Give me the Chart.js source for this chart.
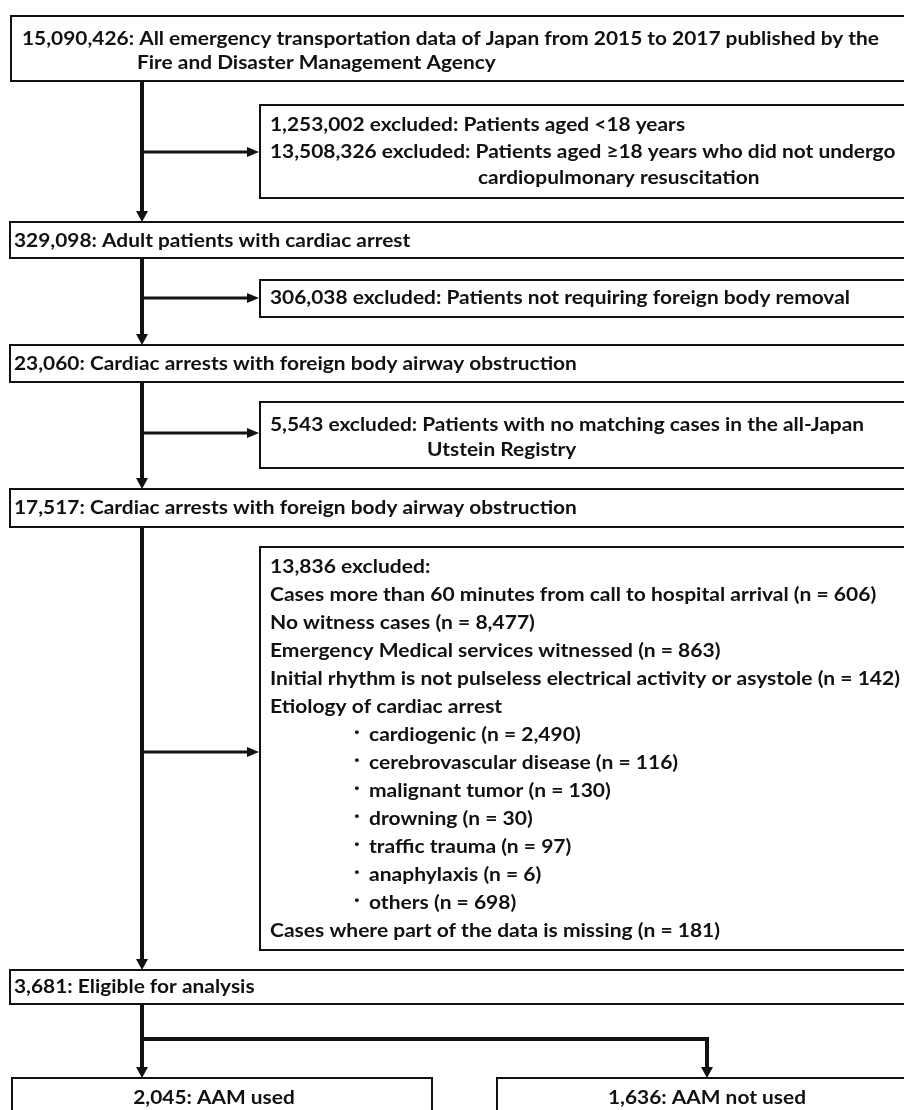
<!DOCTYPE html>
<html>
<head>
<meta charset="utf-8">
<script src="https://cdn.jsdelivr.net/npm/chart.js@4.4.1/dist/chart.umd.min.js"></script>
<style>
  html, body { margin: 0; padding: 0; background: #fff; }
  #flow { display: block; }
</style>
</head>
<body>
<canvas id="flow" width="904" height="1110"></canvas>
<script>
// Patients left at each stage of the flow
const stageCounts = [15090426, 329098, 23060, 17517, 3681];
const stageLabels = [
    ['All emergency transportation data of Japan from 2015 to 2017 published by the', 'Fire and Disaster Management Agency'],
    ['Adult patients with cardiac arrest'],
    ['Cardiac arrests with foreign body airway obstruction'],
    ['Cardiac arrests with foreign body airway obstruction'],
    ['Eligible for analysis']
];

// Exclusions between the stages
const excludedCounts = [1253002, 13508326, 306038, 5543, 13836];
const excludedReasons = [
    ['Patients aged <18 years'],
    ['Patients aged \u226518 years who did not undergo', 'cardiopulmonary resuscitation'],
    ['Patients not requiring foreign body removal'],
    ['Patients with no matching cases in the all-Japan', 'Utstein Registry'],
    ['']
];

// Breakdown of the last exclusion
const criteriaLabels = [
    'Cases more than 60 minutes from call to hospital arrival',
    'No witness cases',
    'Emergency Medical services witnessed',
    'Initial rhythm is not pulseless electrical activity or asystole'
];
const criteriaCounts = [606, 8477, 863, 142];
const etiologyTitle = 'Etiology of cardiac arrest';
const etiologyLabels = ['cardiogenic', 'cerebrovascular disease', 'malignant tumor', 'drowning', 'traffic trauma', 'anaphylaxis', 'others'];
const etiologyCounts = [2490, 116, 130, 30, 97, 6, 698];
const missingLabel = 'Cases where part of the data is missing';
const missingCount = 181;

// Final groups
const groupLabels = ['AAM used', 'AAM not used'];
const groupCounts = [2045, 1636];

// Layout of the boxes (pixels in the 904 x 1110 frame)
const layout = {
    mainX: 142,
    right: 912,
    stages: [
        { left: 11, top: 16, bottom: 81, textX: 22, lineY: [39, 63], wrapX: 137 },
        { left: 10, top: 222, bottom: 258, textX: 14, lineY: [241] },
        { left: 10, top: 345, bottom: 382, textX: 14, lineY: [364] },
        { left: 10, top: 489, bottom: 527, textX: 14, lineY: [508] },
        { left: 10, top: 970, bottom: 1004, textX: 14, lineY: [987] }
    ],
    exclusions: [
        { items: [0, 1], top: 105, bottom: 198, arrowY: 152, lineY: [125, 152, 178], wrapX: 478 },
        { items: [2], top: 280, bottom: 317, arrowY: 298, lineY: [298] },
        { items: [3], top: 402, bottom: 468, arrowY: 433, lineY: [425, 450], wrapX: 427 },
        { items: [4], top: 547, bottom: 950, arrowY: 752, firstY: 567, step: 28 }
    ],
    exclLeft: 260,
    exclTextX: 270,
    bulletX: 354,
    bulletTextX: 369,
    branchY: 1039,
    groups: [
        { left: 12, right: 432, centerX: 214 },
        { left: 497, right: 917, centerX: 707 }
    ],
    groupTop: 1078,
    groupBottom: 1120,
    groupTextY: 1098
};

const FONT = 'bold 18px Lato, "Open Sans", sans-serif';
const fmt = v => v.toLocaleString('en-US');
const nText = v => '(n = ' + fmt(v) + ')';

const flowPlugin = {
    id: 'flowDiagram',
    afterDraw(chart) {
        const c = chart.ctx;
        const sx = chart.scales.x, sy = chart.scales.y;
        const X = v => sx.getPixelForValue(v);
        const Y = v => sy.getPixelForValue(v);

        c.save();
        c.fillStyle = '#fff';
        c.fillRect(0, 0, chart.width, chart.height);
        c.strokeStyle = '#111';
        c.fillStyle = '#111';
        c.font = FONT;
        c.textBaseline = 'middle';

        // squeeze the font so the long lines match the original widths
        const topLine = fmt(stageCounts[0]) + ': ' + stageLabels[0][0];
        const squeeze = (879 - 22) / c.measureText(topLine).width;
        const listLine = criteriaLabels[3] + ' ' + nText(criteriaCounts[3]);
        const listSqueeze = (900 - 270) / c.measureText(listLine).width;
        let sq = squeeze;

        function text(str, x, y, align) {
            c.save();
            c.translate(X(x), Y(y));
            c.scale(sq, 1);
            c.textAlign = align || 'left';
            c.fillText(str, 0, 0);
            c.restore();
        }
        function box(l, t, r, b) {
            c.lineWidth = 2;
            c.strokeRect(X(l), Y(t), X(r) - X(l), Y(b) - Y(t));
        }
        function line(x0, y0, x1, y1, w) {
            c.lineWidth = w;
            c.beginPath();
            c.moveTo(X(x0), Y(y0));
            c.lineTo(X(x1), Y(y1));
            c.stroke();
        }
        function arrowDown(x, y0, y1) {
            line(x, y0, x, y1 - 9, 4);
            c.beginPath();
            c.moveTo(X(x - 6), Y(y1 - 11));
            c.lineTo(X(x + 6), Y(y1 - 11));
            c.lineTo(X(x), Y(y1));
            c.closePath();
            c.fill();
        }
        function arrowRight(x0, x1, y) {
            line(x0, y, x1 - 9, y, 3);
            c.beginPath();
            c.moveTo(X(x1 - 12), Y(y - 5));
            c.lineTo(X(x1 - 12), Y(y + 5));
            c.lineTo(X(x1), Y(y));
            c.closePath();
            c.fill();
        }

        const L = layout;

        // stage boxes and the trunk between them
        L.stages.forEach((s, i) => {
            box(s.left, s.top, L.right, s.bottom);
            const lines = stageLabels[i];
            text(fmt(stageCounts[i]) + ': ' + lines[0], s.textX, s.lineY[0]);
            for (let k = 1; k < lines.length; k++) text(lines[k], s.wrapX, s.lineY[k]);
            if (i > 0) arrowDown(L.mainX, L.stages[i - 1].bottom, s.top);
        });

        // exclusion boxes
        L.exclusions.forEach(e => {
            box(L.exclLeft, e.top, L.right, e.bottom);
            arrowRight(L.mainX, L.exclLeft - 1, e.arrowY);
            if (e.lineY) {
                let row = 0;
                e.items.forEach(idx => {
                    const reasons = excludedReasons[idx];
                    text(fmt(excludedCounts[idx]) + ' excluded: ' + reasons[0], L.exclTextX, e.lineY[row++]);
                    for (let k = 1; k < reasons.length; k++) text(reasons[k], e.wrapX, e.lineY[row++]);
                });
            } else {
                sq = listSqueeze;
                let y = e.firstY;
                text(fmt(excludedCounts[e.items[0]]) + ' excluded:', L.exclTextX, y);
                criteriaLabels.forEach((lab, k) => {
                    y += e.step;
                    text(lab + ' ' + nText(criteriaCounts[k]), L.exclTextX, y);
                });
                y += e.step;
                text(etiologyTitle, L.exclTextX, y);
                etiologyLabels.forEach((lab, k) => {
                    y += e.step;
                    text('\u00b7', L.bulletX, y - 3);
                    text(lab + ' ' + nText(etiologyCounts[k]), L.bulletTextX, y);
                });
                y += e.step;
                text(missingLabel + ' ' + nText(missingCount), L.exclTextX, y);
                sq = squeeze;
            }
        });

        // split into the two groups
        const last = L.stages[L.stages.length - 1];
        arrowDown(L.mainX, last.bottom, L.groupTop);
        line(L.mainX - 2, L.branchY, L.groups[1].centerX + 2, L.branchY, 4);
        arrowDown(L.groups[1].centerX, L.branchY - 2, L.groupTop);
        L.groups.forEach((g, i) => {
            box(g.left, L.groupTop, g.right, L.groupBottom);
            text(fmt(groupCounts[i]) + ': ' + groupLabels[i], g.centerX, L.groupTextY, 'center');
        });

        c.restore();
    }
};

new Chart(document.getElementById('flow').getContext('2d'), {
    type: 'scatter',
    data: { datasets: [] },
    options: {
        responsive: false,
        animation: false,
        layout: { padding: 0 },
        scales: {
            x: { type: 'linear', min: 0, max: 904, display: false },
            y: { type: 'linear', min: 0, max: 1110, reverse: true, display: false }
        },
        plugins: {
            legend: { display: false },
            tooltip: { enabled: false }
        }
    },
    plugins: [flowPlugin]
});
</script>
</body>
</html>
